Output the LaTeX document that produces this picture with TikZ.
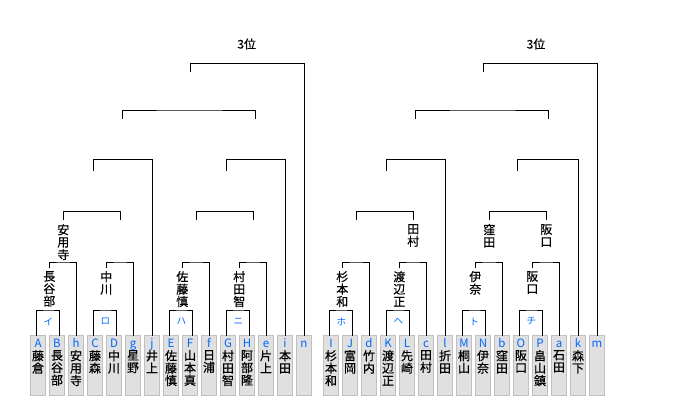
\documentclass[tikz,border=0pt]{standalone}
\usepackage{fontspec}
\newfontfamily\jp[FakeBold=0.5]{Noto Sans CJK JP}
\newfontfamily\jpl{Noto Sans CJK JP}
\definecolor{lblue}{RGB}{0,102,255}
\definecolor{boxfill}{RGB}{224,224,224}
\definecolor{boxline}{RGB}{192,192,192}
\tikzset{
  pbox/.style={draw=boxline, fill=boxfill, line width=1pt, minimum width=15.6pt, minimum height=59.5pt, inner sep=0pt, outer sep=0pt},
  lett/.style={text=lblue, font=\jpl\fontsize{11.5}{12}\selectfont, inner sep=0pt, anchor=base},
  vname/.style={font=\jp\fontsize{12}{12.4}\selectfont, inner sep=0pt, anchor=north, align=center},
  kana/.style={text=lblue, font=\jpl\fontsize{9.5}{10}\selectfont, inner sep=0pt},
  br/.style={line width=1pt, draw=black},
  plain/.style={font=\jp\fontsize{12}{12}\selectfont, inner sep=0pt}
}
\begin{document}
\lineskiplimit=-20pt
\begin{tikzpicture}[x=1pt,y=-1pt]
\useasboundingbox (0,0) rectangle (700,396);
\fill[white] (0,0) rectangle (700,396);
% helper heights
\coordinate (y267) at (0,267.5);
\coordinate (y270) at (0,271);
\coordinate (y220) at (0,220.3);
\coordinate (y224) at (0,224);
\coordinate (y171) at (0,170.7);
\coordinate (y119) at (0,118.7);
\coordinate (y72) at (0,71.7);
% players
\foreach \cx/\lt/\nm in {38/A/{藤\\倉}, 57/B/{長\\谷\\部}, 76/h/{安\\用\\寺}, 95/C/{藤\\森}, 114/D/{中\\川}, 133/g/{星\\野}, 152/j/{井\\上}, 171/E/{佐\\藤\\慎}, 190/F/{山\\本\\真}, 209/f/{日\\浦}, 228/G/{村\\田\\智}, 247/H/{阿\\部\\隆}, 266/e/{片\\上}, 285/i/{本\\田}, 304/n/{},
  331/I/{杉\\本\\和}, 350/J/{富\\岡}, 369/d/{竹\\内}, 388/K/{渡\\辺\\正}, 407/L/{先\\崎}, 426/c/{田\\村}, 445/l/{折\\田}, 464/M/{桐\\山}, 483/N/{伊\\奈}, 502/b/{窪\\田}, 521/O/{阪\\口}, 540/P/{畠\\山\\鎮}, 559/a/{石\\田}, 578/k/{森\\下}, 597/m/{}} {
  \node[pbox] (b\lt) at (\cx,365.25) {};
  \node[lett] (t\lt) at (\cx,347.5) {\lt};
  \node[vname] (n\lt) at (\cx,350) {\nm};
}
% ---------- round 1 ----------
\coordinate (r1a) at (49.3,310);
\coordinate (r1b) at (106.3,310);
\coordinate (r1c) at (182.3,310);
\coordinate (r1d) at (239.3,310);
\coordinate (r1e) at (342.3,310);
\coordinate (r1f) at (399.3,310);
\coordinate (r1g) at (475.3,310);
\coordinate (r1h) at (532.3,310);
\draw[br] ([xshift=-1.2pt]bA.north) |- (r1a) -| ([xshift=2.8pt]bB.north);
\draw[br] ([xshift=-1.2pt]bC.north) |- (r1b) -| ([xshift=2.8pt]bD.north);
\draw[br] ([xshift=-1.2pt]bE.north) |- (r1c) -| ([xshift=2.8pt]bF.north);
\draw[br] ([xshift=-1.2pt]bG.north) |- (r1d) -| ([xshift=2.8pt]bH.north);
\draw[br] ([xshift=-1.2pt]bI.north) |- (r1e) -| ([xshift=2.8pt]bJ.north);
\draw[br] ([xshift=-1.2pt]bK.north) |- (r1f) -| ([xshift=2.8pt]bL.north);
\draw[br] ([xshift=-1.2pt]bM.north) |- (r1g) -| ([xshift=2.8pt]bN.north);
\draw[br] ([xshift=-1.2pt]bO.north) |- (r1h) -| ([xshift=2.8pt]bP.north);
\node[kana] (ka) at (48.3,321.5) {イ};
\node[kana] (kb) at (105.3,321.5) {ロ};
\node[kana] (kc) at (181.3,321.5) {ハ};
\node[kana] (kd) at (238.3,321.5) {ニ};
\node[kana] (ke) at (341.3,321.5) {ホ};
\node[kana] (kf) at (398.3,321.5) {ヘ};
\node[kana] (kg) at (474.3,321.5) {ト};
\node[kana] (kh) at (531.3,321.5) {チ};
% ---------- round 2 ----------
\coordinate (r2a) at (63.3,262);
\coordinate (r2b) at (120.3,262);
\coordinate (r2c) at (196.3,262);
\coordinate (r2d) at (253.3,262);
\coordinate (r2e) at (356.3,262);
\coordinate (r2f) at (413.3,262);
\coordinate (r2g) at (489.3,262);
\coordinate (r2h) at (546.3,262);
\coordinate (s2a) at (r1a |- y267);
\coordinate (s2b) at (r1b |- y267);
\coordinate (s2c) at (r1c |- y267);
\coordinate (s2d) at (r1d |- y267);
\coordinate (s2e) at (r1e |- y267);
\coordinate (s2f) at (r1f |- y267);
\coordinate (s2g) at (r1g |- y267);
\coordinate (s2h) at (r1h |- y267);
\draw[br] (s2a) |- (r2a) -| (bh.north);
\draw[br] (s2b) |- (r2b) -| (bg.north);
\draw[br] (s2c) |- (r2c) -| (bf.north);
\draw[br] (s2d) |- (r2d) -| (be.north);
\draw[br] (s2e) |- (r2e) -| (bd.north);
\draw[br] (s2f) |- (r2f) -| (bc.north);
\draw[br] (s2g) |- (r2g) -| (bb.north);
\draw[br] (s2h) |- (r2h) -| (ba.north);
\node[vname] (la) at (r1a |- y270) {長\\谷\\部};
\node[vname] (lb) at (r1b |- y270) {中\\川};
\node[vname] (lc) at (r1c |- y270) {佐\\藤\\慎};
\node[vname] (ld) at (r1d |- y270) {村\\田\\智};
\node[vname] (le) at (r1e |- y270) {杉\\本\\和};
\node[vname] (lf) at (r1f |- y270) {渡\\辺\\正};
\node[vname] (lg) at (r1g |- y270) {伊\\奈};
\node[vname] (lh) at (r1h |- y270) {阪\\口};
% ---------- round 3 ----------
\coordinate (r3a) at (93.3,211.3);
\coordinate (r3b) at (226.7,211.3);
\coordinate (r3c) at (386.3,211.3);
\coordinate (r3d) at (517.3,211.3);
\draw[br] (r2a |- y220) |- (r3a) -| (r2b |- y220);
\draw[br] (r2c |- y220) |- (r3b) -| (r2d |- y220);
\draw[br] (r2e |- y220) |- (r3c) -| (r2f |- y220);
\draw[br] (r2g |- y220) |- (r3d) -| (r2h |- y220);
\node[vname] (m3a) at (r2a |- y224) {安\\用\\寺};
\node[vname] (m3c) at (r2f |- y224) {田\\村};
\node[vname] (m3d) at (r2g |- y224) {窪\\田};
\node[vname] (m3e) at (r2h |- y224) {阪\\口};
% ---------- round 4 ----------
\coordinate (r4a) at (122.3,159.3);
\coordinate (r4b) at (255.3,159.3);
\coordinate (r4c) at (415.3,159.3);
\coordinate (r4d) at (548.3,159.3);
\draw[br] (r3a |- y171) |- (r4a) -| (bj.north);
\draw[br] (r3b |- y171) |- (r4b) -| (bi.north);
\draw[br] (r3c |- y171) |- (r4c) -| (bl.north);
\draw[br] (r3d |- y171) |- (r4d) -| (bk.north);
% ---------- round 5 ----------
\coordinate (r5a) at (190.3,110);
\coordinate (r5b) at (483.3,110);
\draw[br] (r4a |- y119) |- (r5a) -| (r4b |- y119);
\draw[br] (r4c |- y119) |- (r5b) -| (r4d |- y119);
% ---------- round 6 ----------
\coordinate (r6a) at (247,63.3);
\coordinate (r6b) at (540,63.3);
\draw[br] (r5a |- y72) |- (r6a) -| (bn.north);
\draw[br] (r5b |- y72) |- (r6b) -| (bm.north);
\node[plain] (p3a) at (246.7,44) {3位};
\node[plain] (p3b) at (536,44) {3位};
\end{tikzpicture}
\end{document}
